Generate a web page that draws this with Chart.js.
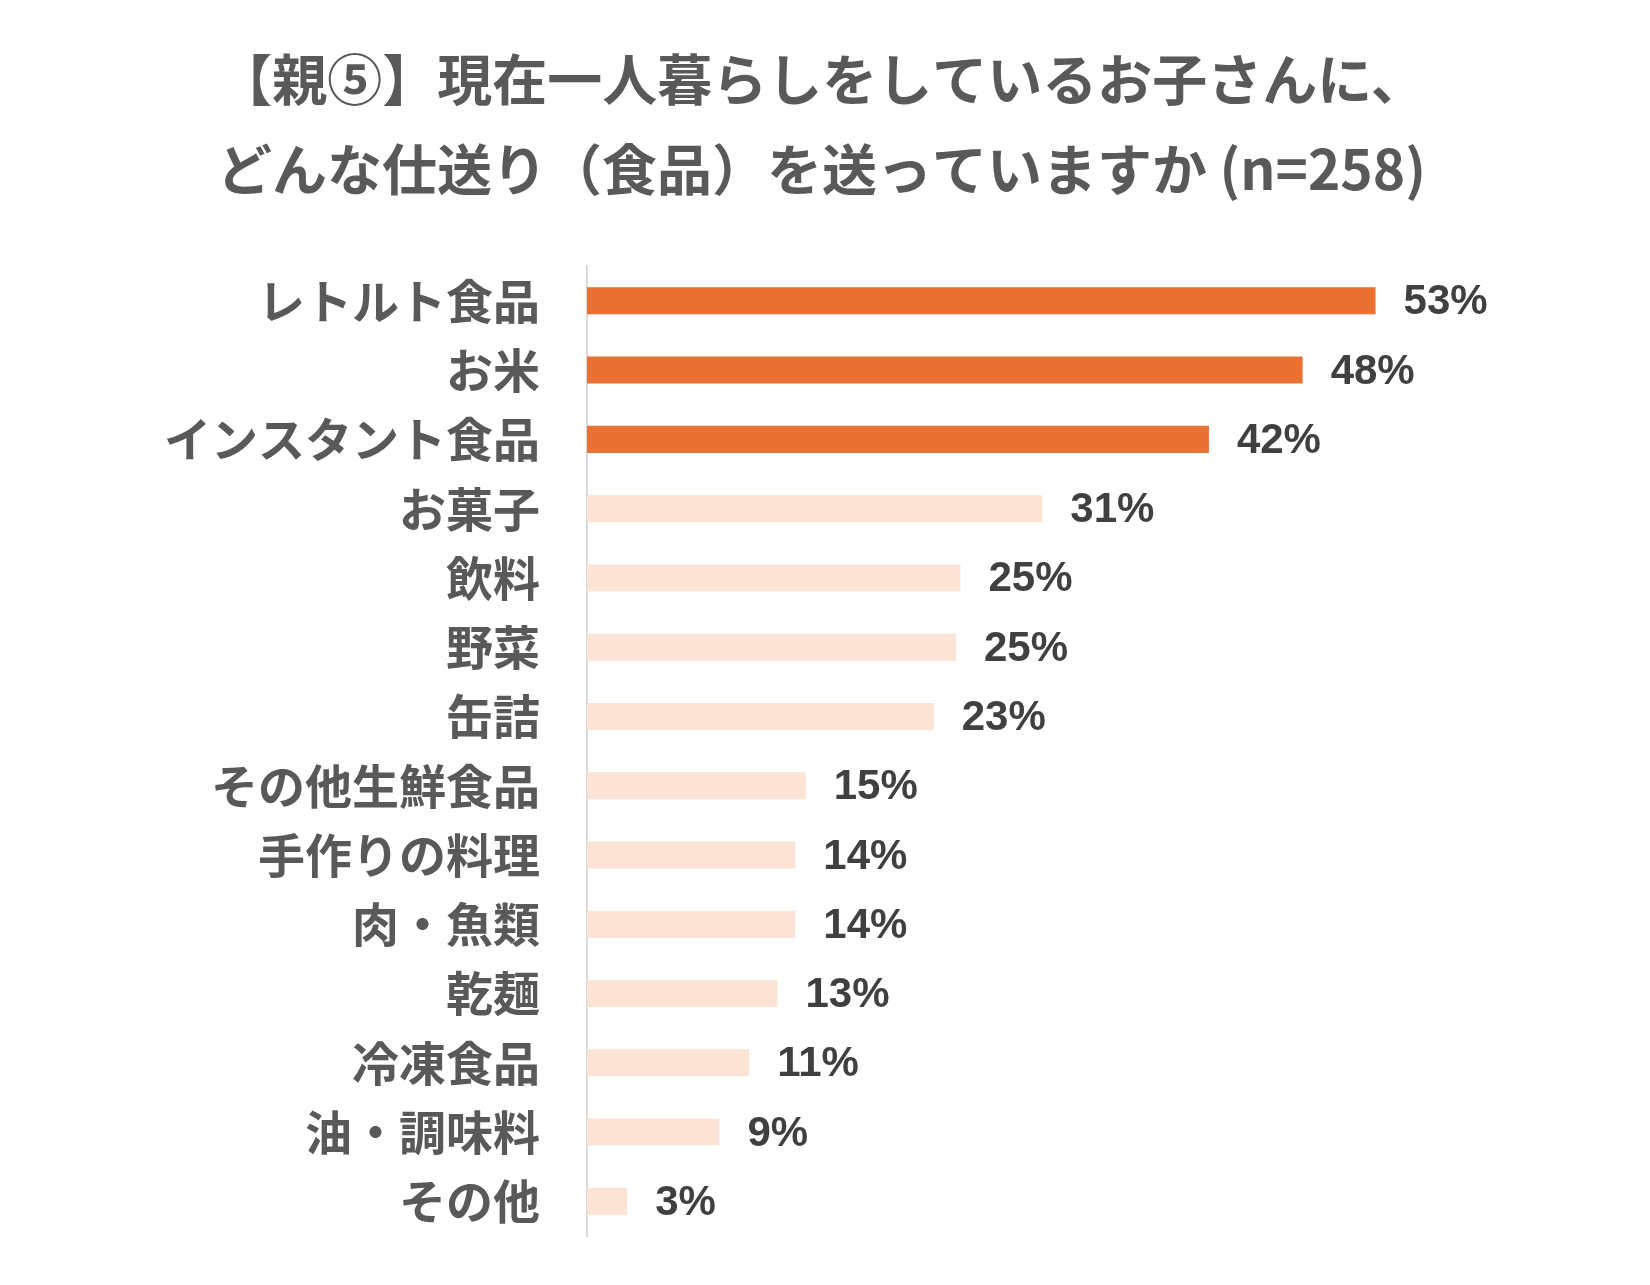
<!DOCTYPE html>
<html lang="ja">
<head>
<meta charset="utf-8">
<script src="https://cdn.jsdelivr.net/npm/chart.js@4.4.1/dist/chart.umd.min.js"></script>
<style>
  html, body { margin: 0; padding: 0; background: #fff; }
  #wrap { width: 1650px; height: 1285px; }
</style>
</head>
<body>
<div id="wrap"><canvas id="chart"></canvas></div>
<script>
const titleLines = [
  '【親⑤】現在一人暮らしをしているお子さんに、',
  'どんな仕送り（食品）を送っていますか (n=258)'
];

const categories = [
  'レトルト食品', 'お米', 'インスタント食品', 'お菓子', '飲料', '野菜', '缶詰',
  'その他生鮮食品', '手作りの料理', '肉・魚類', '乾麺', '冷凍食品', '油・調味料', 'その他'
];

// percent of respondents
const values = [53.0, 48.1, 41.8, 30.6, 25.1, 24.8, 23.3, 14.7, 14.0, 14.0, 12.8, 10.9, 8.9, 2.7];

// top 3 highlighted
const highlightCount = 3;
const DARK = '#E97132';
const LIGHT = '#FBE3D6';

const barColors = values.map((v, i) => i < highlightCount ? DARK : LIGHT);

// draw "53%" etc. to the right of each bar
const valueLabels = {
  id: 'valueLabels',
  afterDatasetsDraw(chart) {
    const ctx = chart.ctx;
    const meta = chart.getDatasetMeta(0);
    ctx.save();
    ctx.font = 'bold 42px "Liberation Sans", Arial, sans-serif';
    ctx.fillStyle = '#404040';
    ctx.textAlign = 'left';
    ctx.textBaseline = 'middle';
    meta.data.forEach((bar, i) => {
      const txt = Math.round(values[i]) + '%';
      ctx.fillText(txt, bar.x + 28, bar.y + 2);
    });
    ctx.restore();
  }
};

const ctx = document.getElementById('chart').getContext('2d');
const chart = new Chart(ctx, {
  type: 'bar',
  data: {
    labels: categories,
    datasets: [{
      data: values,
      backgroundColor: barColors,
      borderWidth: 0,
      categoryPercentage: 1.0,
      barPercentage: 0.39
    }]
  },
  options: {
    indexAxis: 'y',
    responsive: true,
    maintainAspectRatio: false,
    animation: false,
    layout: {
      padding: { left: 141, right: 148, top: 0, bottom: 49 }
    },
    scales: {
      x: {
        display: false,
        min: 0,
        max: 61.5
      },
      y: {
        grid: { display: false, drawTicks: false },
        border: { display: true, color: '#D9D9D9', width: 2 },
        ticks: {
          padding: 47,
          color: '#595959',
          font: { family: '"Noto Sans CJK JP", sans-serif', size: 47, weight: 'bold' }
        },
        afterFit(scale) {
          // fixed axis width, and no extra top/bottom room for the big labels
          scale.width = 446;
          scale.paddingTop = 0;
          scale.paddingBottom = 0;
        }
      }
    },
    plugins: {
      legend: { display: false },
      tooltip: { enabled: false },
      title: {
        display: true,
        text: titleLines,
        color: '#595959',
        font: { family: '"Noto Sans CJK JP", sans-serif', size: 55, weight: 'bold', lineHeight: 1.62 },
        padding: { top: 35, bottom: 53 }
      }
    }
  },
  plugins: [valueLabels]
});
</script>
</body>
</html>
